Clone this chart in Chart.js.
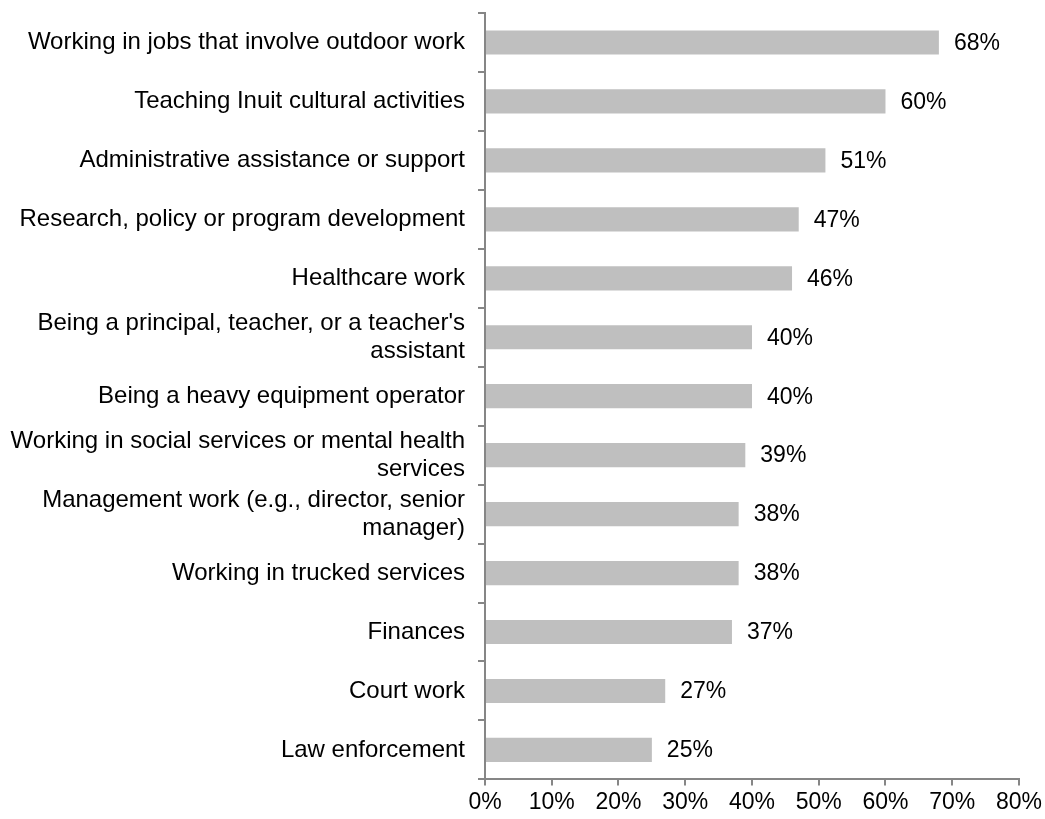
<!DOCTYPE html>
<html>
<head>
<meta charset="utf-8">
<script src="https://cdn.jsdelivr.net/npm/chart.js@4"></script>
<style>
	html, body { margin: 0; padding: 0; background: #fff; }
	#wrap { width: 1045px; height: 819px; position: relative; }
</style>
</head>
<body>
<div id="wrap"><canvas id="myChart"></canvas></div>
<script>
const categories = [
	"Working in jobs that involve outdoor work",
	"Teaching Inuit cultural activities",
	"Administrative assistance or support",
	"Research, policy or program development",
	"Healthcare work",
	["Being a principal, teacher, or a teacher's", "assistant"],
	"Being a heavy equipment operator",
	["Working in social services or mental health", "services"],
	["Management work (e.g., director, senior", "manager)"],
	"Working in trucked services",
	"Finances",
	"Court work",
	"Law enforcement"
]
const values = [68, 60, 51, 47, 46, 40, 40, 39, 38, 38, 37, 27, 25]
const xTicks = [0, 10, 20, 30, 40, 50, 60, 70, 80]

const FONT = "Arial, 'Liberation Sans', sans-serif"
const AXIS = "#868686"

// подписи значений справа от полос
const barLabels = {
	id: "barLabels",
	afterDatasetsDraw(chart) {
		const ctx = chart.ctx
		const meta = chart.getDatasetMeta(0)
		ctx.save()
		ctx.font = "23px " + FONT
		ctx.fillStyle = "#000"
		ctx.textAlign = "left"
		ctx.textBaseline = "middle"
		meta.data.forEach((bar, i) => {
			ctx.fillText(values[i] + "%", bar.x + 15, bar.y + 1)
		})
		ctx.restore()
	}
}

new Chart("myChart", {
	type: "bar",
	data: {
		labels: categories,
		datasets: [{
			data: values,
			backgroundColor: "#bfbfbf",
			borderWidth: 0,
			barPercentage: 0.41,
			categoryPercentage: 1
		}]
	},
	options: {
		indexAxis: "y",
		responsive: true,
		maintainAspectRatio: false,
		animation: false,
		layout: { padding: { top: 13, right: 23, bottom: 0, left: 0 } },
		plugins: {
			legend: { display: false },
			tooltip: { enabled: false }
		},
		scales: {
			x: {
				min: 0,
				max: 80,
				afterBuildTicks(scale) {
					scale.ticks = xTicks.map(v => ({ value: v }))
				},
				border: { display: true, color: AXIS, width: 2 },
				grid: { drawOnChartArea: false, drawTicks: true, tickLength: 6, color: AXIS, lineWidth: 2 },
				ticks: {
					color: "#000",
					font: { family: FONT, size: 23 },
					padding: 3,
					maxRotation: 0,
					autoSkip: false,
					callback: v => v + "%"
				}
			},
			y: {
				afterFit(scale) {
					scale.width = 485
					scale.paddingTop = 0
					scale.paddingBottom = 0
				},
				border: { display: true, color: AXIS, width: 2 },
				grid: { offset: true, drawOnChartArea: false, drawTicks: true, tickLength: 7, color: AXIS, lineWidth: 2 },
				ticks: {
					color: "#000",
					font: { family: FONT, size: 24, lineHeight: 1.15 },
					padding: 13,
					autoSkip: false,
					align: "center",
					crossAlign: "near"
				}
			}
		}
	},
	plugins: [barLabels]
})
</script>
</body>
</html>
